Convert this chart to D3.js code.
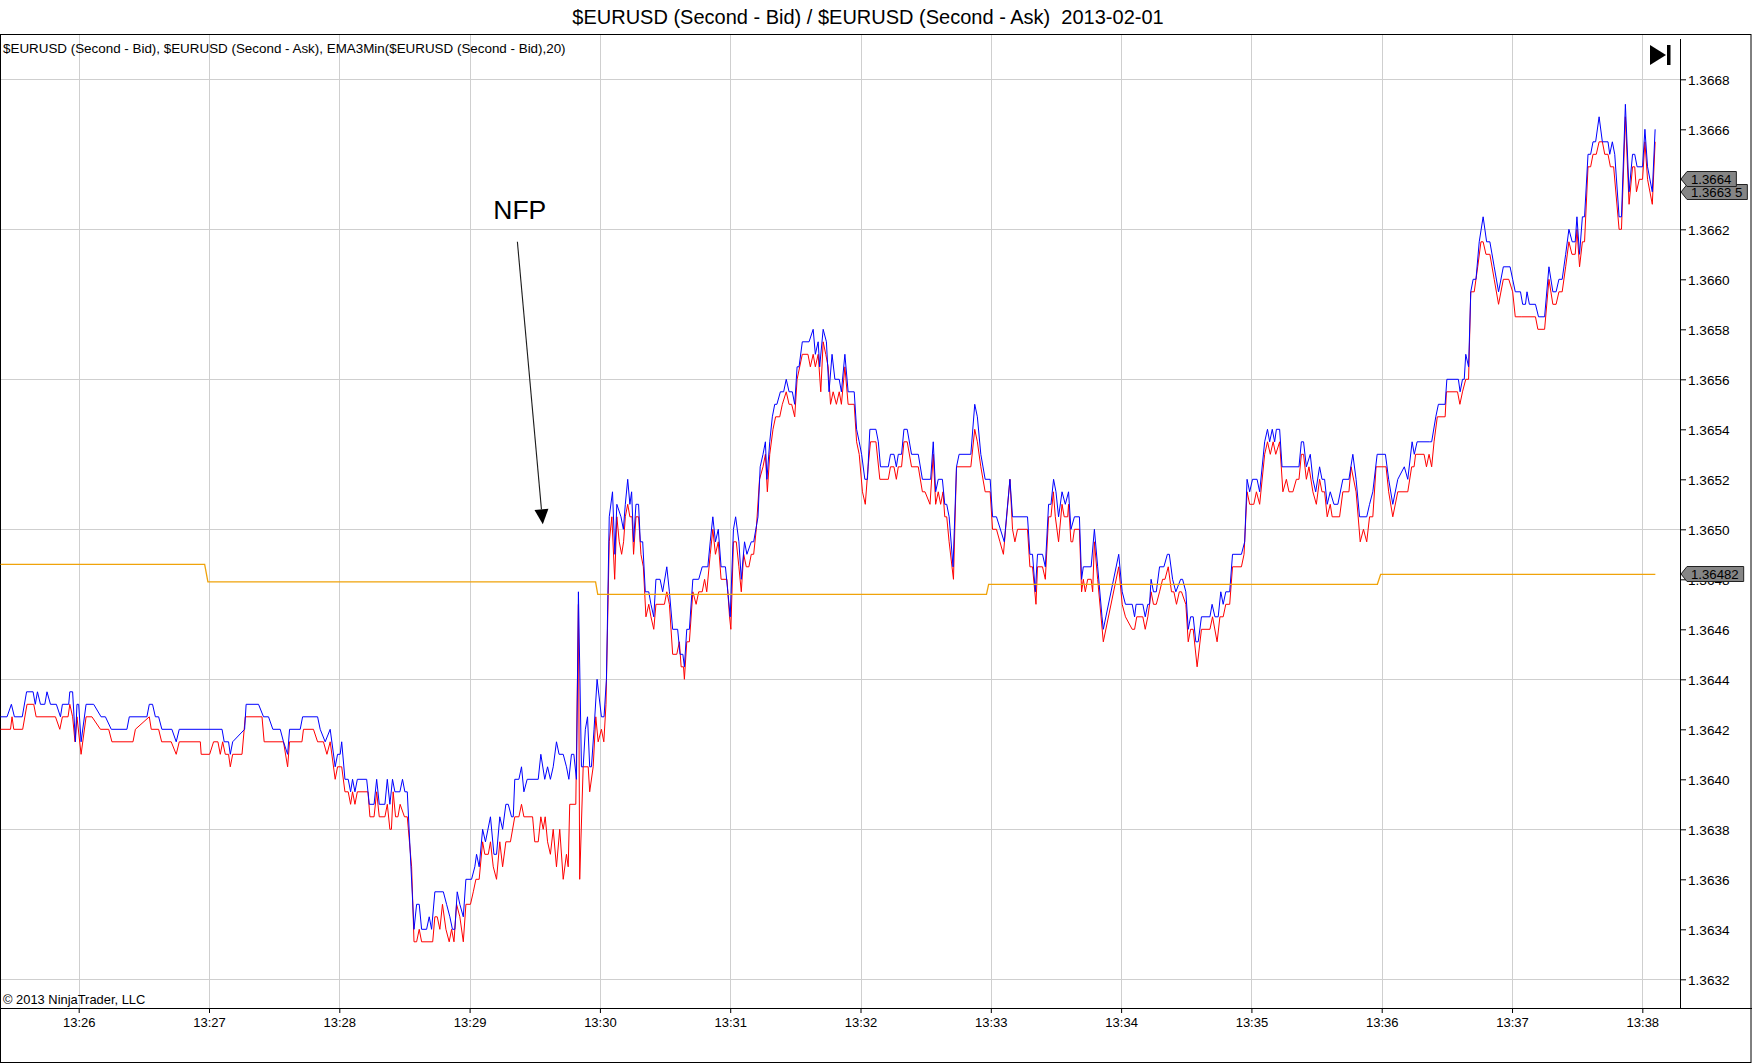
<!DOCTYPE html>
<html>
<head>
<meta charset="utf-8">
<script src="https://cdn.jsdelivr.net/npm/d3@7"></script>
<style>
body { margin: 0; background: #fff; }
text { font-family: "Liberation Sans", Arial, sans-serif; }
</style>
</head>
<body>
<div class="chart"></div>
<script>
var title = "$EURUSD (Second - Bid) / $EURUSD (Second - Ask)  2013-02-01"
var legend = "$EURUSD (Second - Bid), $EURUSD (Second - Ask), EMA3Min($EURUSD (Second - Bid),20)"
var copyright = "\u00a9 2013 NinjaTrader, LLC"

// [seconds after 13:25:00, price]
var ask = [
    [24,1.36425],[27,1.36425],[29,1.3643],[30.4,1.36425],[34,1.36425],[36,1.36435],[39,1.36435],[40,1.3643],[41,1.36435],[42.4,1.3643],[44.4,1.3643],[45.4,1.36435],[47,1.3643],[49.7,1.3643],[51.6,1.36425],[52.5,1.3643],[55.4,1.3643],[55.9,1.36435],[57.2,1.36435],[58.5,1.36415],[59.2,1.3643],[60,1.3643],
    [61.1,1.36415],[63.4,1.3643],[66.9,1.3643],[70.3,1.36425],[72.3,1.36425],[75,1.3642],[82.2,1.3642],[83.3,1.36425],[91.4,1.36425],[92.5,1.3643],[94,1.3643],[95.3,1.36425],[96.8,1.36425],[98.3,1.3642],[102.9,1.3642],[104.9,1.36415],[106.3,1.3642],
    [126,1.3642],[127,1.36415],[129,1.36415],[129.8,1.3641],[130.9,1.36415],[136.4,1.3642],[137.1,1.3643],[142.8,1.3643],[145.1,1.36425],[147.4,1.36425],[149.4,1.3642],[152.8,1.3642],[154.3,1.36415],[156.2,1.3641],[157.1,1.3642],[162,1.3642],[163.1,1.36425],[170,1.36425],[171.2,1.3642],[173.5,1.36415],[175.8,1.3642],[178.1,1.36405],[179.2,1.3641],[180.4,1.3641],
    [181.1,1.36415],[182.6,1.364],[184.1,1.364],[185.2,1.36395],[186.1,1.364],[187.2,1.36395],[188.3,1.364],[192.6,1.364],[193.8,1.3639],[196,1.3639],[197.2,1.364],[198.4,1.3639],[201,1.3639],[202.1,1.364],[203.3,1.3639],[204.5,1.364],[205.6,1.36395],[207.9,1.36395],[209.1,1.364],[210.2,1.36395],[211.3,1.36395],
    [214.4,1.3634],[215.6,1.3635],[216.8,1.3635],[217.9,1.3634],[220.2,1.3634],[221.4,1.36345],[222.5,1.3634],[224,1.36355],[227.9,1.36355],[229.4,1.3635],[230.9,1.36345],[232.1,1.3634],[233.2,1.3634],[234.3,1.36355],[235.5,1.3635],[237.1,1.36345],[238.3,1.3636],[240.9,1.3636],
    [242.4,1.36365],[243.2,1.3637],[244.4,1.36365],[246,1.3638],[247.3,1.36375],[249.6,1.36385],[251.2,1.3637],[252.4,1.3637],[253.9,1.36385],[255.2,1.3638],[256.7,1.3639],[257.8,1.3639],[259.3,1.36385],[260.1,1.36385],[260.8,1.364],[262.7,1.364],[263.9,1.36405],[265,1.36395],[266.5,1.364],
    [271.6,1.364],[272.8,1.3641],[274.6,1.364],[275.9,1.36405],[277.2,1.364],[278.5,1.36405],[280,1.36415],[281.2,1.3641],[283.1,1.3641],[284.6,1.36405],[285.7,1.364],[286.9,1.3641],[288,1.3641],[289.2,1.364],[290.1,1.36475],[291.5,1.36405],[292.3,1.36405],[293.3,1.3642],[294.3,1.36425],[295.3,1.36405],[296.1,1.36405],[297.3,1.3642],[298.7,1.3644],[300.7,1.36425],[301.9,1.36425],[303,1.3644],
    [304.3,1.36505],[305.8,1.36515],[306.9,1.3649],[307.8,1.3651],[309.7,1.36505],[310.8,1.365],[311.7,1.3651],[312.8,1.3652],[313.8,1.3651],[314.6,1.36515],[315.5,1.36495],[316.6,1.3651],[317.8,1.3651],[318.6,1.36495],[319.7,1.36495],[320.9,1.36475],[322.5,1.36475],[323.5,1.3647],[324.8,1.36465],[325.8,1.3648],[327.7,1.3648],[328.9,1.36475],[330.8,1.36485],[332,1.36475],[333.5,1.3646],[335.8,1.3646],[336.9,1.3645],[338.2,1.3645],[338.9,1.36445],[340,1.3646],[341.2,1.3646],
    [342.8,1.3648],[345.5,1.3648],[347.1,1.36485],[349.7,1.36485],[350.8,1.36495],[352,1.36505],[353.2,1.36495],[354.5,1.365],[355.8,1.36485],[357.8,1.36485],[358.9,1.36475],[360,1.36465],[361.5,1.365],[362.5,1.36505],[364,1.36495],[365.1,1.3648],[366.6,1.36495],[367.7,1.3649],[369.7,1.36495],[370.8,1.36495],[372.8,1.36505],
    [373.8,1.36525],[375.1,1.3653],[376.2,1.36535],[376.9,1.3652],[378.2,1.36535],[379.4,1.36545],[380.5,1.3655],[381.5,1.3655],[383.1,1.36555],[384.6,1.36555],[385.8,1.3656],[387.1,1.36555],[388.6,1.36555],[389.7,1.3655],[390.8,1.36565],[391.7,1.36565],[393.2,1.36575],[396.3,1.36575],[398.2,1.3658],[399.2,1.3657],[400.5,1.36575],[401.2,1.36565],[402.8,1.3658],[404.3,1.36575],[405.5,1.36555],[406.9,1.3657],[408.2,1.3656],[410.2,1.3656],[411.2,1.36555],[412.8,1.3657],[414.3,1.36555],[417.1,1.36555],
    [418.2,1.3654],[419.4,1.36535],[420.5,1.3653],[422,1.3652],[423.2,1.3652],[424.3,1.3654],[427.1,1.3654],[428.2,1.36535],[429.2,1.36525],[432.8,1.36525],[433.8,1.3653],[435.4,1.3653],[436.5,1.36525],[437.4,1.3653],[438.9,1.3653],[440,1.3654],[441.5,1.3654],[443.5,1.3653],[446.6,1.3653],[448.5,1.3652],[452.3,1.3652],[453.5,1.36535],[454.6,1.36515],[455.8,1.3652],[457.7,1.3652],[458.8,1.3651],[459.7,1.3651],[460.8,1.36505],[462.6,1.36485],[464.2,1.36525],[465.4,1.3653],[470.8,1.3653],[472.6,1.3655],[473.8,1.36545],[475.4,1.3653],[477.4,1.3652],[479.7,1.3652],
    [480.8,1.36505],[482.6,1.36505],[486.2,1.36495],[488.8,1.3652],[490,1.36505],[496.9,1.36505],[498,1.3649],[499.2,1.3649],[500.5,1.36475],[501.5,1.3649],[503.8,1.3649],[505.1,1.36485],[506.6,1.3651],[507.7,1.3651],[508.9,1.3652],[510,1.36515],[511.2,1.36505],[512.8,1.36515],[514.3,1.3651],[515.8,1.36515],[516.9,1.365],[518.5,1.36505],[520.8,1.36505],[521.8,1.3648],[522.6,1.36485],[526.2,1.36485],[527.7,1.365],[529.2,1.36485],[531.2,1.36465],[531.8,1.3646],[538.9,1.3649],
    [540.5,1.36475],[542,1.3647],[545.1,1.3647],[546.2,1.36465],[546.9,1.3647],[550,1.3647],[551.1,1.36465],[552.3,1.3647],[553.1,1.3647],[553.8,1.3648],[554.9,1.36475],[556.2,1.36475],[557.7,1.36485],[559.7,1.36485],[561.3,1.3649],[562.2,1.3649],[563.7,1.3648],[565.2,1.36475],[567.4,1.3648],[568.3,1.3648],[569.8,1.36475],[570.9,1.3646],[572,1.36465],[573.2,1.36465],[574.4,1.36455],[575.5,1.36455],[577,1.36465],[580.9,1.36465],[581.9,1.3647],[583.2,1.36465],[584.7,1.36465],[585.9,1.36475],[587,1.3647],[588.2,1.36475],[590,1.36475],[591.3,1.3649],[595.4,1.3649],[596.9,1.36495],[598,1.3652],[599.2,1.36515],
    [600.5,1.3652],[602.6,1.3652],[603.8,1.36515],[606.1,1.36535],[607.4,1.3654],[608.4,1.36535],[609.6,1.3654],[610.7,1.36535],[611.5,1.3654],[613,1.3654],[614.1,1.36525],[621.9,1.36525],[623,1.36535],[624,1.36535],[625.3,1.36525],[627.1,1.3653],[628.3,1.3652],[629.6,1.36515],[631.4,1.36525],[632.5,1.3652],[633.7,1.3652],[634.9,1.3651],[636.3,1.36515],[638,1.3651],[639.8,1.3651],[642.1,1.3652],[644.9,1.3652],[646.7,1.3653],[648.2,1.3652],[649.8,1.36505],[653.1,1.36505],[654.4,1.3651],[655.9,1.36515],[657.9,1.3653],
    [661.7,1.3653],[663.2,1.3652],[665.1,1.3651],[667.4,1.3652],[670.4,1.36525],[672,1.3652],[674,1.36535],[675,1.3653],[676.3,1.36535],[681.9,1.36535],[683,1.36535],[684.9,1.36545],[686.1,1.3655],[689.2,1.3655],[690,1.3656],[695.3,1.3656],[696.1,1.36555],[697.2,1.3656],[698,1.3656],[698.7,1.3657],[700,1.36565],[701,1.36595],[702.1,1.366],[703.4,1.366],[704.9,1.36615],[706.7,1.36625],[708.3,1.36615],[709.8,1.36615],[711.8,1.36605],[713.8,1.36595],[716,1.36605],[719.1,1.36605],
    [720.3,1.366],[721.5,1.36595],[723.9,1.36595],[724.9,1.3659],[726.2,1.3659],[726.9,1.36595],[728,1.3659],[730.8,1.3659],[732.2,1.36585],[735,1.36585],[737,1.36605],[738.8,1.36595],[740.3,1.36595],[741.6,1.366],[743.1,1.366],[744.7,1.3661],[746.2,1.3662],[747.7,1.36615],[749.1,1.36615],[749.9,1.36625],[751.1,1.3661],[752.4,1.36625],[753.4,1.36625],[755,1.3665],[756.2,1.3665],[757.3,1.36655],[758.5,1.36655],[760.1,1.36665],[761.6,1.36655],[764.2,1.36655],[765,1.3665],[766.2,1.36655],[767.3,1.3665],[769.3,1.36625],[770.4,1.36625],[772.2,1.3667],[773.9,1.36635],[775.5,1.3665],[776.5,1.3665],[777.6,1.36645],[780.1,1.36645],[781.2,1.3666],[782.4,1.36645],[784.6,1.36635],[785.9,1.3666]
]

var bid = [
    [24,1.3642],[28.6,1.3642],[29.3,1.36425],[30.1,1.3642],[34.2,1.3642],[36.2,1.3643],[39.3,1.3643],[40.4,1.36425],[49.3,1.36425],[51.3,1.3642],[52.5,1.36425],[55.1,1.36425],[55.9,1.3643],[57.2,1.36425],[58.3,1.36415],[59.2,1.36425],
    [61.1,1.3641],[63.4,1.36425],[66.1,1.36425],[70,1.3642],[73.8,1.3642],[75.3,1.36415],[85,1.36415],[86.1,1.3642],[92.5,1.36425],[93.4,1.3642],[96.8,1.3642],[98.2,1.36415],[102.6,1.36415],[104.9,1.3641],[106.3,1.36415],[116,1.36415],[116.4,1.3641],
    [120.3,1.3641],[122.1,1.36415],[124.1,1.36415],[125.2,1.3641],[126.3,1.36415],[127.5,1.3641],[129,1.3641],[129.8,1.36405],[130.9,1.3641],[135.2,1.3641],[136.7,1.36425],[144.4,1.36425],[145.4,1.36415],[154.3,1.36415],[156.2,1.36405],[157.1,1.36415],[162.8,1.36415],[163.5,1.3642],[168.1,1.3642],[170,1.36415],[172.7,1.36415],[174.3,1.3641],[175.8,1.36415],[178.1,1.364],[179.2,1.36405],[180.4,1.36405],
    [181.1,1.36405],[182.6,1.36395],[184.1,1.36395],[185.2,1.3639],[186.1,1.36395],[187.2,1.3639],[188.3,1.36395],[193.2,1.36395],[194.1,1.36385],[196,1.36385],[197.2,1.36395],[198.4,1.36385],[201,1.36385],[202.1,1.3639],[203.3,1.3638],[204,1.3638],[204.8,1.36395],[205.9,1.36385],[207,1.36385],[208,1.3639],[210,1.36385],[211.3,1.36385],[213.3,1.36365],
    [214.4,1.36335],[215.6,1.36335],[216.8,1.3634],[217.9,1.36335],[223,1.36335],[224,1.36345],[225.1,1.36345],[226.3,1.3634],[227.5,1.3635],[229.1,1.3634],[230.6,1.36335],[231.7,1.3634],[232.8,1.36335],[234,1.3635],[235.5,1.36345],[237.1,1.36335],[238.3,1.3635],[240.4,1.3635],
    [241.7,1.36355],[242.9,1.3636],[244.4,1.3636],[246,1.36375],[247,1.3637],[248.6,1.3637],[249.6,1.36375],[250.9,1.36365],[252.4,1.3636],[253.9,1.36375],[255.2,1.36365],[256.7,1.36375],[258.8,1.36375],[260.8,1.36385],[262.7,1.36385],[263.9,1.3639],[265,1.36385],[269,1.36385],[270,1.36375],
    [271.6,1.36375],[272.8,1.36385],[273.9,1.3638],[274.8,1.36385],[275.9,1.36375],[277.2,1.3637],[278.5,1.3638],[280,1.36365],[281.5,1.3638],[283.1,1.3636],[284.6,1.3637],[285.4,1.36365],[286.1,1.3639],[288.9,1.3639],[290.1,1.3647],[290.7,1.3636],[292.3,1.36405],[294.6,1.36405],[295.3,1.36395],[296.9,1.36405],[298.1,1.36425],[299.2,1.36415],[300.7,1.3642],[301.8,1.36415],[302.8,1.3643],
    [304.3,1.36495],[305.5,1.36505],[306.8,1.3648],[307.8,1.36505],[308.9,1.36495],[310,1.3649],[310.9,1.36495],[311.7,1.36505],[312.8,1.3651],[313.8,1.36505],[314.8,1.36505],[315.5,1.3649],[316.6,1.36505],[317.8,1.36505],[318.9,1.3649],[320,1.36485],[321.2,1.36465],[322.5,1.3647],[323.5,1.36465],[324.8,1.3646],[325.8,1.3647],[329.7,1.3647],[330.8,1.36475],[332,1.3647],[333.5,1.3645],[335.4,1.3645],[336.6,1.36455],[337.4,1.36445],[338.5,1.36445],[338.9,1.3644],[340,1.36455],[341.2,1.36455],
    [342.8,1.36475],[344.3,1.3647],[345.5,1.36475],[347.1,1.36475],[348.2,1.3648],[349.2,1.36475],[350.8,1.3649],[352,1.365],[353.2,1.3649],[354.5,1.36495],[355.8,1.3648],[358.5,1.3648],[359.7,1.36465],[360.3,1.3646],[361.5,1.36495],[362.8,1.36495],[364,1.36485],[365.1,1.36475],[366.2,1.3649],[367.4,1.36485],[368.6,1.36485],[369.7,1.3649],[370.8,1.3649],[372,1.365],
    [373.5,1.3652],[375.1,1.36525],[376.2,1.3653],[377.1,1.36515],[378.2,1.3653],[379.7,1.3654],[380.9,1.36545],[382.8,1.36545],[384,1.3655],[385.8,1.36555],[387.1,1.3655],[388.3,1.3655],[389.7,1.36545],[390.8,1.3656],[392,1.36565],[393.2,1.3657],[395.8,1.3657],[396.9,1.36565],[398.2,1.3657],[399.2,1.36565],[400.5,1.3657],[401.7,1.36555],[402.8,1.36575],[404,1.3657],[405.1,1.36565],[406.2,1.3655],[407.4,1.36555],[408.9,1.3655],[410.2,1.36555],[411.2,1.3655],[412.8,1.36565],[414.3,1.3655],[417.1,1.3655],
    [418.2,1.36535],[419.4,1.3653],[420.9,1.36515],[422.2,1.3651],[423.5,1.36525],[424.6,1.36535],[427.1,1.36535],[428.9,1.3652],[432.8,1.3652],[433.8,1.36525],[435.4,1.36525],[436.5,1.3652],[437.4,1.36525],[438.9,1.36525],[440,1.36535],[441.5,1.36535],[443.5,1.36525],[446.6,1.36525],[448.5,1.36515],[449.7,1.36515],[452,1.3651],[453.5,1.3653],[454.6,1.3651],[455.8,1.36515],[456.9,1.3651],[458,1.36515],[458.8,1.36505],[459.7,1.36505],[460.8,1.36495],[462.8,1.3648],[464.2,1.36525],[470.8,1.36525],[472.6,1.3654],[473.8,1.36535],[475.4,1.36525],[477.4,1.36515],[479.7,1.36515],
    [480.8,1.365],[482.6,1.365],[484.2,1.36495],[485.8,1.3649],[488.8,1.3652],[490,1.365],[491.1,1.36495],[492.3,1.365],[496.9,1.365],[498,1.36485],[499.2,1.36485],[500.8,1.3647],[501.5,1.36485],[503.8,1.36485],[505.1,1.3648],[506.6,1.36505],[507.7,1.36505],[508.8,1.36515],[509.7,1.36505],[511.2,1.36495],[512.8,1.3651],[513.8,1.36505],[515.4,1.36505],[515.8,1.3651],[516.9,1.36495],[517.7,1.36495],[518.5,1.365],[520.8,1.365],[521.8,1.36475],[522.6,1.3648],[523.5,1.36475],[524.6,1.3648],[526.2,1.3648],[526.9,1.36475],[527.7,1.36495],[529.2,1.3648],[531.8,1.36455],[538.9,1.36485],
    [540.5,1.3647],[542,1.36465],[545.1,1.3646],[546.2,1.3646],[547.2,1.36465],[550,1.36465],[551.1,1.3646],[552.3,1.36465],[553.1,1.3647],[553.8,1.36475],[554.9,1.3647],[556.2,1.3647],[557.7,1.36475],[559.1,1.3648],[560.2,1.3648],[561.7,1.36485],[563.2,1.36475],[564.3,1.36475],[565.5,1.3647],[566.8,1.36475],[567.8,1.36475],[569.8,1.3647],[570.9,1.36455],[572,1.3646],[573.2,1.3646],[575,1.36445],[577,1.3646],[580.9,1.3646],[582.1,1.36465],[584.2,1.36455],[585.5,1.36465],[587,1.36465],[588.2,1.3647],[590,1.3647],[591.3,1.36485],[595.4,1.36485],[596.6,1.3649],[598,1.36515],[599.2,1.3651],
    [601.1,1.3651],[602.3,1.36515],[603.8,1.3651],[606.1,1.3653],[607.4,1.36535],[608.7,1.3653],[610,1.36535],[611.2,1.3653],[613,1.36535],[614.5,1.36515],[616.1,1.3652],[617.3,1.36515],[619.1,1.36515],[620.7,1.3652],[621.9,1.3652],[623,1.3653],[624,1.3653],[625.3,1.3652],[626.5,1.36525],[628.3,1.36515],[629.9,1.3651],[631.4,1.3652],[632.5,1.36515],[633.7,1.36515],[634.9,1.36505],[636.3,1.3651],[637.2,1.36505],[640.6,1.36505],[642.1,1.36515],[644.9,1.36515],[645.9,1.36525],[648.2,1.36515],[650.1,1.36495],[651.6,1.365],[653.1,1.36495],[654.4,1.36505],[655.9,1.36505],[657.4,1.36525],
    [662,1.36525],[663.2,1.36515],[665.1,1.36505],[667.4,1.36515],[672,1.36515],[673.8,1.36525],[674.9,1.36525],[675.6,1.3653],[679.5,1.3653],[680.6,1.36525],[681.8,1.3653],[683,1.36525],[684.1,1.36535],[685.6,1.36545],[689.2,1.36545],[689.8,1.36555],[694.9,1.36555],[696,1.3655],[697.2,1.36555],[698.7,1.3656],[700,1.3656],[701,1.36595],[702.6,1.36595],[704.2,1.36605],[705.7,1.36615],[706.7,1.36615],[708,1.3661],[709.8,1.3661],[711.8,1.366],[713.8,1.3659],[716,1.366],[718.5,1.366],
    [720.3,1.36595],[721.5,1.36585],[724.2,1.36585],[730.8,1.36585],[731.9,1.3658],[735,1.3658],[737,1.366],[738.8,1.3659],[740.3,1.3659],[741.6,1.36595],[743.1,1.36595],[744.7,1.36605],[746.2,1.36615],[747.6,1.3661],[749.1,1.3661],[749.9,1.3662],[751.1,1.36605],[752.4,1.36615],[753.4,1.36615],[755,1.36645],[756.2,1.36645],[757.3,1.3665],[758.8,1.3665],[760.1,1.36655],[761.6,1.36655],[762.7,1.3665],[764.2,1.3665],[765.3,1.36645],[766.8,1.36645],[769.3,1.3662],[770.4,1.3662],[772.2,1.36665],[773.9,1.3663],[775.5,1.36645],[776.5,1.36645],[777.3,1.36635],[778.6,1.3664],[780.1,1.3664],[781.2,1.36655],[782.4,1.3664],[784.6,1.3663],[785.9,1.36655]
]

var ema = [
    [24,1.36486],[118,1.36486],[119.5,1.36479],[298,1.36479],[299,1.36474],[478,1.36474],[479,1.36478],[658,1.36478],[659.5,1.36482],[786,1.36482]
]

var yTicks = [1.3632,1.3634,1.3636,1.3638,1.3640,1.3642,1.3644,1.3646,1.3648,1.3650,1.3652,1.3654,1.3656,1.3658,1.3660,1.3662,1.3664,1.3666,1.3668]
var yGrid = [1.3632,1.3638,1.3644,1.3650,1.3656,1.3662,1.3668]
var tags = [
    { label: "1.3663 5", value: 1.36635 },
    { label: "1.3664", value: 1.3664 },
    { label: "1.36482", value: 1.36482 }
]
var notes = [{ label: "NFP", time: 250.9, price: 1.36624 }]
var arrows = [{ from: [262, 1.36615], to: [273.7, 1.36502] }]

var t0 = new Date(2013, 1, 1, 13, 25, 0)
function at(s) { return new Date(t0.getTime() + s * 1000) }

// plot box (window.top is read-only, so no bare "top")
var plotL = 0, plotR = 1680, plotT = 34, plotB = 1008

var x = d3.scaleTime()
    .domain([at(23.76), at(797.35)])
    .range([plotL, plotR])
var y = d3.scaleLinear()
    .domain([1.3630852, 1.3669812])
    .range([plotB, plotT])

var svg = d3.select('.chart')
    .append('svg')
    .attr('width', 1752)
    .attr('height', 1064)
    .style('display', 'block')

svg.append('text')
    .attr('x', 868)
    .attr('y', 24)
    .attr('text-anchor', 'middle')
    .style('font-size', '20px')
    .style('white-space', 'pre')
    .text(title)

// grid
var minutes = x.ticks(d3.timeMinute.every(1))
svg.append('g').selectAll('line')
    .data(minutes)
    .enter()
    .append('line')
    .attr('x1', d => Math.round(x(d)) + 0.5)
    .attr('x2', d => Math.round(x(d)) + 0.5)
    .attr('y1', plotT)
    .attr('y2', plotB)
    .attr('stroke', '#cfcfcf')

svg.append('g').selectAll('line')
    .data(yGrid)
    .enter()
    .append('line')
    .attr('x1', plotL)
    .attr('x2', plotR)
    .attr('y1', d => Math.round(y(d)) + 0.5)
    .attr('y2', d => Math.round(y(d)) + 0.5)
    .attr('stroke', '#cfcfcf')

// axes
var xAxis = svg.append('g')
    .attr('transform', 'translate(0,' + plotB + ')')
    .call(d3.axisBottom(x)
        .ticks(d3.timeMinute.every(1))
        .tickFormat(d3.timeFormat('%H:%M'))
        .tickSize(5)
        .tickPadding(5))
xAxis.select('.domain').remove()
xAxis.selectAll('text')
    .attr('fill', '#000')
    .style('font-size', '13px')
    .style('font-family', '"Liberation Sans", Arial, sans-serif')

var yAxis = svg.append('g')
    .attr('transform', 'translate(' + plotR + ',0)')
    .call(d3.axisRight(y)
        .tickValues(yTicks)
        .tickFormat(d3.format('.4f'))
        .tickSize(6)
        .tickPadding(2))
yAxis.select('.domain').remove()
yAxis.selectAll('text')
    .attr('fill', '#000')
    .attr('dy', '0.35em')
    .style('font-size', '13.6px')
    .style('font-family', '"Liberation Sans", Arial, sans-serif')

// frame
svg.append('rect')
    .attr('x', 0.5)
    .attr('y', plotT + 0.5)
    .attr('width', 1750.5)
    .attr('height', 1062.5 - plotT - 0.5)
    .attr('fill', 'none')
    .attr('stroke', '#000')
svg.append('line')
    .attr('x1', 0).attr('x2', 1752)
    .attr('y1', plotB + 0.5).attr('y2', plotB + 0.5)
    .attr('stroke', '#000')
svg.append('line')
    .attr('x1', plotR + 0.5).attr('x2', plotR + 0.5)
    .attr('y1', 39).attr('y2', plotB)
    .attr('stroke', '#000')

// series
svg.append('clipPath')
    .attr('id', 'plot')
    .append('rect')
    .attr('x', plotL).attr('y', plotT)
    .attr('width', plotR - plotL).attr('height', plotB - plotT)

var line = d3.line()
    .x(d => x(at(d[0])))
    .y(d => y(d[1]))

var series = [
    { data: bid, color: '#ff0000', width: 1 },
    { data: ask, color: '#0000ff', width: 1 },
    { data: ema, color: '#f0a30a', width: 1.3 }
]
svg.append('g')
    .attr('clip-path', 'url(#plot)')
    .selectAll('path')
    .data(series)
    .enter()
    .append('path')
    .attr('d', d => line(d.data))
    .attr('fill', 'none')
    .attr('stroke', d => d.color)
    .attr('stroke-width', d => d.width)
    .attr('stroke-linejoin', 'miter')

svg.append('text')
    .attr('x', 3)
    .attr('y', 52.7)
    .style('font-size', '13.4px')
    .text(legend)

svg.append('text')
    .attr('x', 3)
    .attr('y', 1004)
    .style('font-size', '12.9px')
    .text(copyright)

// NFP note
svg.selectAll('.note')
    .data(notes)
    .enter()
    .append('text')
    .attr('class', 'note')
    .attr('x', d => x(at(d.time)))
    .attr('y', d => y(d.price))
    .style('font-size', '26.5px')
    .text(d => d.label)

arrows.forEach(function (a) {
    var x1 = x(at(a.from[0])), y1 = y(a.from[1])
    var x2 = x(at(a.to[0])), y2 = y(a.to[1])
    var ang = Math.atan2(y2 - y1, x2 - x1)
    var len = 15, half = 7
    var bx = x2 - len * Math.cos(ang), by = y2 - len * Math.sin(ang)
    var px = -Math.sin(ang) * half, py = Math.cos(ang) * half
    svg.append('line')
        .attr('x1', x1).attr('y1', y1)
        .attr('x2', bx).attr('y2', by)
        .attr('stroke', '#1a1a1a')
        .attr('stroke-width', 1.1)
    svg.append('path')
        .attr('d', 'M' + x2 + ',' + y2 + 'L' + (bx + px) + ',' + (by + py) + 'L' + (bx - px) + ',' + (by - py) + 'Z')
        .attr('fill', '#000')
})

// price tags on the right axis
var tag = svg.append('g').selectAll('g')
    .data(tags)
    .enter()
    .append('g')
    .attr('transform', d => 'translate(' + (plotR + 1) + ',' + Math.round(y(d.value)) + ')')

tag.append('path').attr('class', 'box')
tag.append('text')
    .attr('x', 10)
    .attr('dy', '0.36em')
    .style('font-size', '13.2px')
    .style('white-space', 'pre')
    .text(d => d.label)
tag.each(function () {
    var g = d3.select(this)
    var w = g.select('text').node().getComputedTextLength()
    g.select('.box')
        .attr('d', 'M0,0L6,-7.5L' + (w + 15) + ',-7.5L' + (w + 15) + ',7.5L6,7.5Z')
        .attr('fill', '#858585')
        .attr('stroke', '#222')
})

// scroll-to-end button
svg.append('path')
    .attr('d', 'M1650,45L1666,55L1650,65Z')
    .attr('fill', '#000')
svg.append('rect')
    .attr('x', 1667).attr('y', 45)
    .attr('width', 3.5).attr('height', 20)
    .attr('fill', '#000')
</script>
</body>
</html>
